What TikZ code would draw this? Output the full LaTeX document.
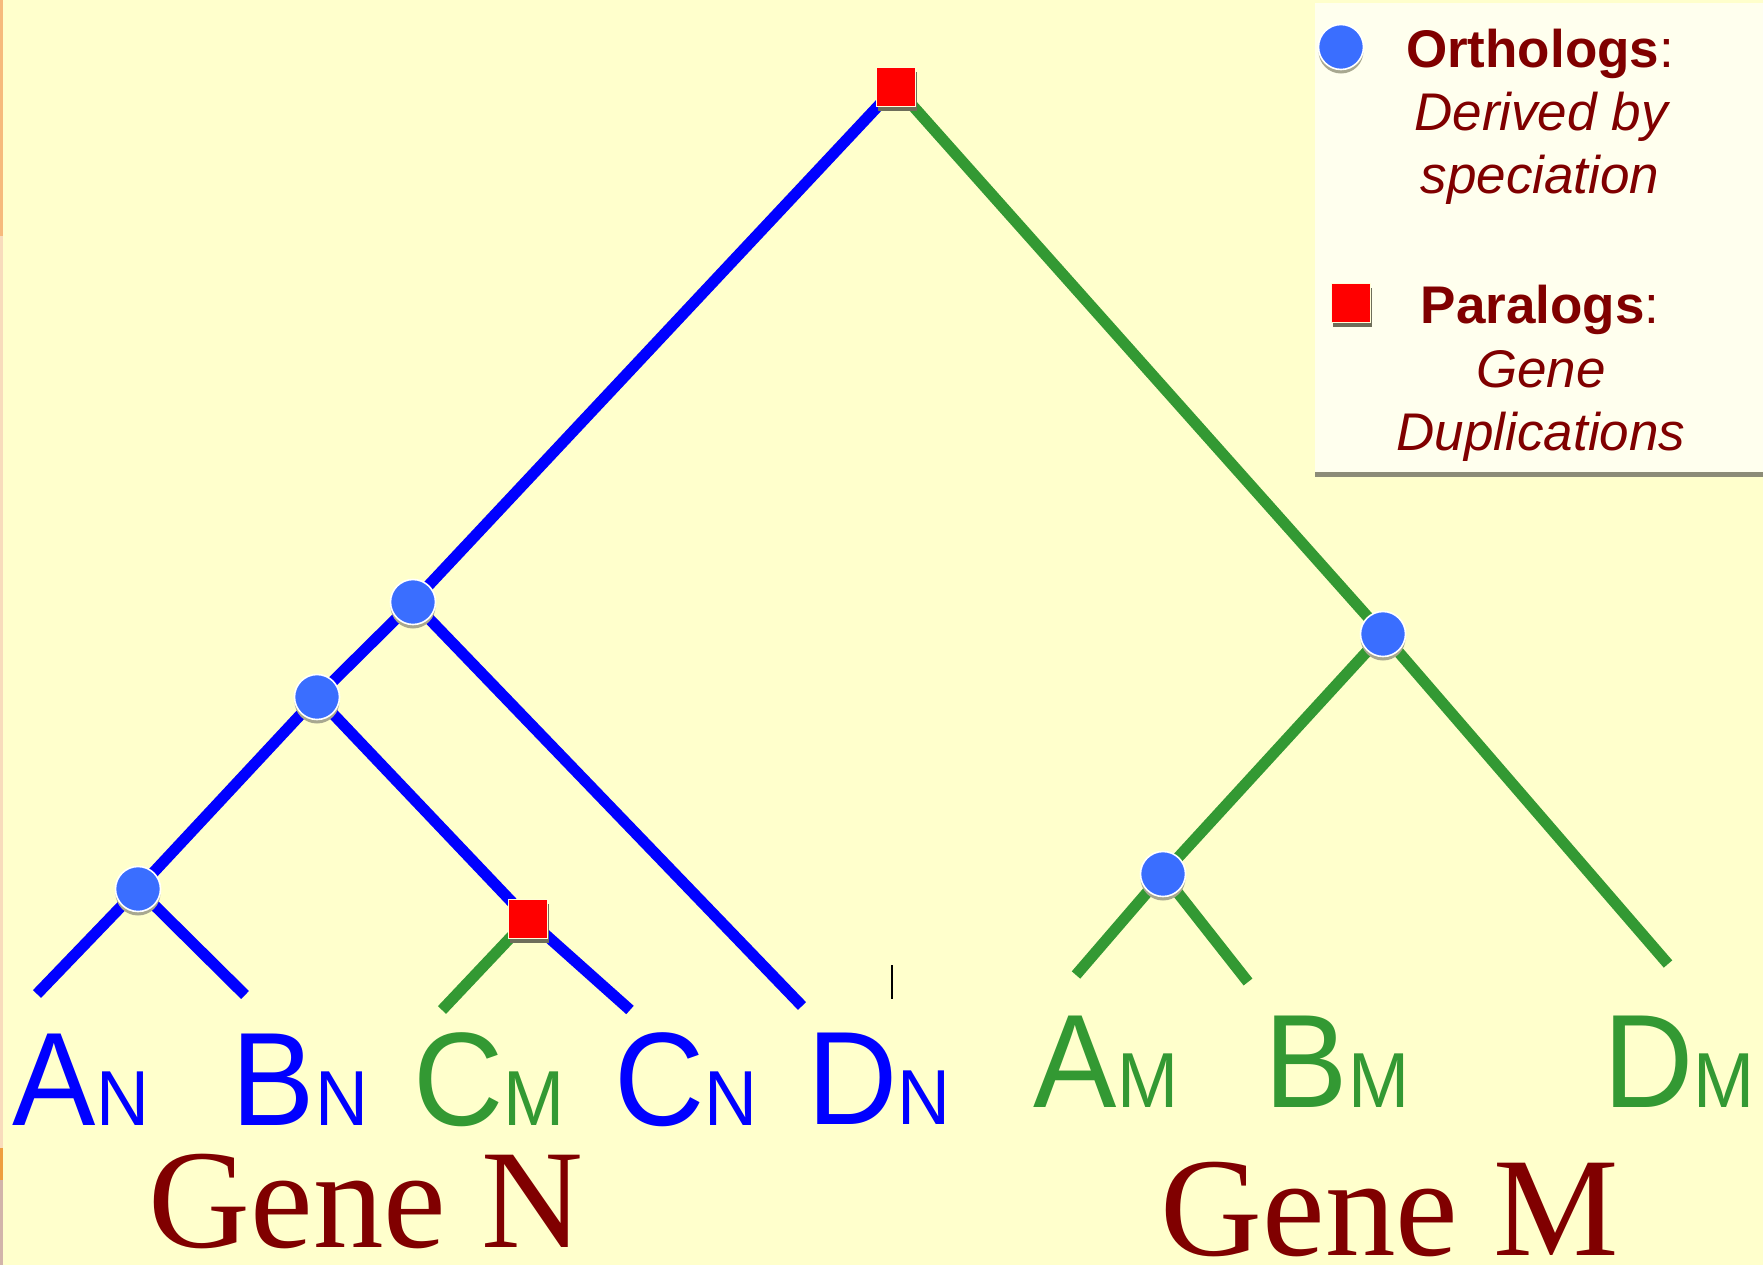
\documentclass[tikz,border=0pt]{standalone}
\usepackage{fontspec}
\setmainfont{Liberation Sans}
\newfontfamily\labfont[FakeStretch=0.94]{Liberation Sans}
\newfontfamily\genefont{Liberation Serif}
\usetikzlibrary{shadows}
\definecolor{bgyellow}{HTML}{FFFFCC}
\definecolor{legfill}{HTML}{FFFFEE}
\definecolor{legshadow}{HTML}{8C8C78}
\definecolor{orthblue}{HTML}{3A6EFF}
\definecolor{treeblue}{HTML}{0000FF}
\definecolor{treegreen}{HTML}{339933}
\definecolor{dupred}{HTML}{FF0000}
\definecolor{darkred}{HTML}{800000}
\definecolor{circshadow}{HTML}{A8A890}
\definecolor{sqshadow}{HTML}{6E6E5A}
\definecolor{stripA}{HTML}{F6BA7C}
\definecolor{stripB}{HTML}{F8DCBC}
\definecolor{stripC}{HTML}{EE9E3E}
\definecolor{stripD}{HTML}{D2B4AA}
\pgfdeclarelayer{bg}
\pgfdeclarelayer{lines}
\pgfsetlayers{bg,lines,main}
\newcommand\genelbl[2]{{\labfont\fontsize{66.5}{70}\selectfont #1}{\labfont\fontsize{39}{42}\selectfont #2}}
\begin{document}
\begin{tikzpicture}[x=0.5pt,y=-0.5pt,
  orth/.style={circle, minimum size=22.5pt, inner sep=0pt, fill=orthblue, draw=white, line width=0.8pt,
    drop shadow={shadow xshift=0pt, shadow yshift=-2pt, fill=circshadow, opacity=1}},
  para/.style={rectangle, minimum size=19.5pt, inner sep=0pt, fill=dupred, draw=white!85!yellow, line width=0.8pt,
    drop shadow={shadow xshift=0.5pt, shadow yshift=-2pt, fill=sqshadow, opacity=1}},
  blueline/.style={draw=treeblue, line width=5.6pt},
  greenline/.style={draw=treegreen, line width=5.6pt},
  leaflbl/.style={anchor=base, inner sep=0pt},
  genename/.style={anchor=base, inner sep=0pt, text=darkred, font=\genefont\fontsize{70.5}{74}\selectfont},
  legbold/.style={anchor=base, inner sep=0pt, text=darkred, font=\fontsize{26.5}{30}\selectfont},
  legital/.style={anchor=base, inner sep=0pt, text=darkred, font=\itshape\fontsize{26.5}{30}\selectfont}
]
\useasboundingbox (0,0) rectangle (1763,1265);
\begin{pgfonlayer}{bg}
  \fill[bgyellow] (0,0) rectangle (1763,1265);
  \fill[stripA] (0,0) rectangle (3,236);
  \fill[stripB] (0,236) rectangle (3,1148);
  \fill[stripC] (0,1148) rectangle (3,1180);
  \fill[stripD] (0,1180) rectangle (3,1265);
  % legend panel
  \fill[legfill] (1315,3) rectangle (1763,474);
  \fill[legshadow] (1315,472) rectangle (1763,477);
\end{pgfonlayer}

% tree nodes
\node[para] (root) at (896,87) {};
\node[orth] (n1) at (413,602) {};
\node[orth] (n2) at (317,697) {};
\node[orth] (n3) at (138,889) {};
\node[para] (dup) at (528,919) {};
\node[orth] (g1) at (1383,634) {};
\node[orth] (g2) at (1163,874) {};

% leaf ends
\coordinate (aN) at (37,994);
\coordinate (bN) at (245,995);
\coordinate (cM) at (442,1010);
\coordinate (cN) at (630,1010);
\coordinate (dN) at (802,1006);
\coordinate (aM) at (1076,975);
\coordinate (bM) at (1248,982);
\coordinate (dM) at (1668,964);
\coordinate (tickA) at (892,965);
\coordinate (tickB) at (892,999);

\begin{pgfonlayer}{lines}
  \draw[blueline] (root.center) -- (n1.center);
  \draw[blueline] (n1.center) -- (n2.center);
  \draw[blueline] (n2.center) -- (n3.center);
  \draw[blueline] (n3.center) -- (aN);
  \draw[blueline] (n3.center) -- (bN);
  \draw[blueline] (n2.center) -- (dup.center);
  \draw[blueline] (dup.center) -- (cN);
  \draw[greenline] (dup.center) -- (cM);
  \draw[blueline] (n1.center) -- (dN);
  \draw[greenline] (root.center) -- (g1.center);
  \draw[greenline] (g1.center) -- (dM);
  \draw[greenline] (g1.center) -- (g2.center);
  \draw[greenline] (g2.center) -- (aM);
  \draw[greenline] (g2.center) -- (bM);
  \draw[line width=1pt] (tickA) -- (tickB);
\end{pgfonlayer}

% leaf labels
\node[leaflbl, text=treeblue] (lAN) at (81,1125) {\genelbl{A}{N}};
\node[leaflbl, text=treeblue] (lBN) at (300,1125) {\genelbl{B}{N}};
\node[leaflbl, text=treegreen] (lCM) at (489,1125) {\genelbl{C}{M}};
\node[leaflbl, text=treeblue] (lCN) at (686,1125) {\genelbl{C}{N}};
\node[leaflbl, text=treeblue] (lDN) at (879,1124) {\genelbl{D}{N}};
\node[leaflbl, text=treegreen] (lAM) at (1106,1107) {\genelbl{A}{M}};
\node[leaflbl, text=treegreen] (lBM) at (1337,1107) {\genelbl{B}{M}};
\node[leaflbl, text=treegreen] (lDM) at (1679,1107) {\genelbl{D}{M}};

% gene names
\node[genename] (geneN) at (366,1247) {Gene N};
\node[genename] (geneM) at (1390,1255) {Gene M};

% legend
\node[orth] (legO) at (1341,47) {};
\node[para] (legP) at (1351,303) {};
\node[legbold] (tO) at (1540,67) {\textbf{Orthologs}:};
\node[legital] (tO1) at (1541,130) {Derived by};
\node[legital] (tO2) at (1540,193) {speciation};
\node[legbold] (tP) at (1540,323) {\textbf{Paralogs}:};
\node[legital] (tP1) at (1541,387) {Gene};
\node[legital] (tP2) at (1541,450) {Duplications};
\end{tikzpicture}
\end{document}
